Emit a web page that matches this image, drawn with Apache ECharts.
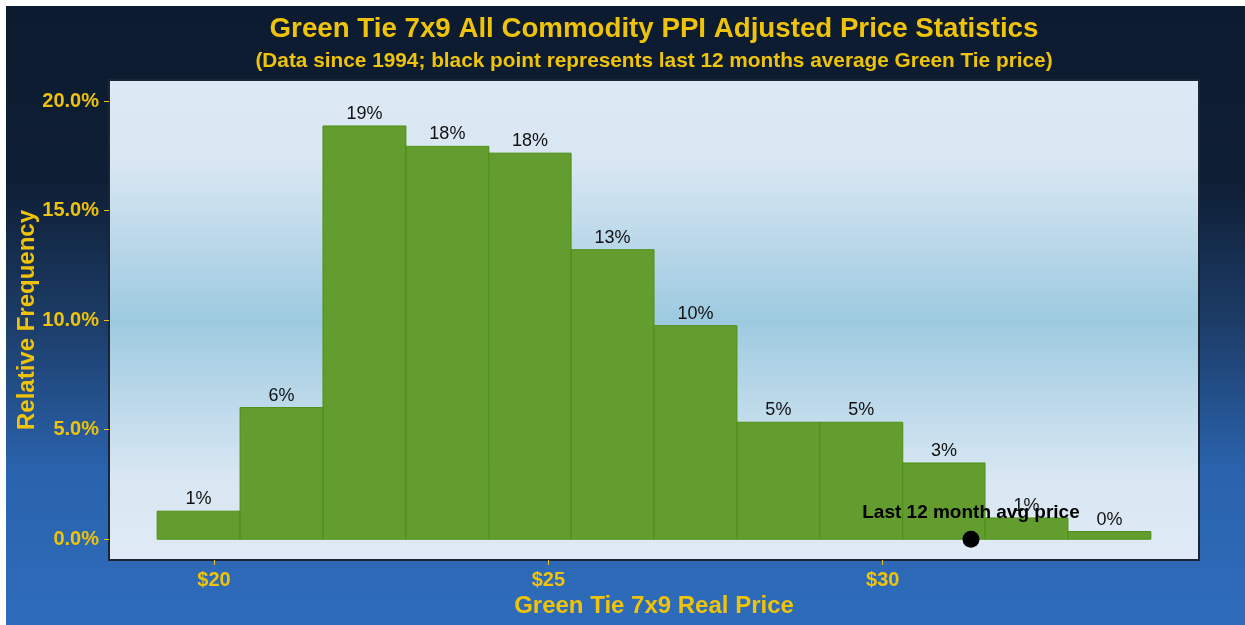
<!DOCTYPE html>
<html>
<head>
<meta charset="utf-8">
<script src="https://cdn.jsdelivr.net/npm/echarts@6/dist/echarts.min.js"></script>
<style>
html, body { margin: 0; padding: 0; background: #ffffff; }
#chart { position: absolute; left: 6px; top: 6px; width: 1239px; height: 619px; }
</style>
</head>
<body>
<div id="chart"></div>
<script>
// ---- data ----
const titleText = 'Green Tie 7x9 All Commodity PPI Adjusted Price Statistics';
const subtitleText = '(Data since 1994; black point represents last 12 months average Green Tie price)';
const xAxisName = 'Green Tie 7x9 Real Price';
const yAxisName = 'Relative Frequency';
const binEdges = [19.15, 20.39, 21.63, 22.87, 24.11, 25.34, 26.58, 27.82, 29.06, 30.30, 31.53, 32.77, 34.01];
const frequencies = [1.28, 6.01, 18.87, 17.94, 17.63, 13.22, 9.75, 5.34, 5.34, 3.48, 0.97, 0.35];
const xTicks = [20, 25, 30];
const yTicks = [0, 5, 10, 15, 20];
const lastAvgPrice = 31.32;
const lastAvgLabel = 'Last 12 month avg price';

const gold = '#efc30a';
const fontFamily = '"Liberation Sans", Arial, sans-serif';

const histData = frequencies.map((v, i) => [binEdges[i], binEdges[i + 1], v]);

const chart = echarts.init(document.getElementById('chart'), null, { renderer: 'canvas' });

const option = {
  animation: false,
  backgroundColor: {
    type: 'linear', x: 0, y: 0, x2: 0, y2: 1,
    colorStops: [
      { offset: 0, color: '#0c1b2f' },
      { offset: 0.28, color: '#0e1e34' },
      { offset: 0.5, color: '#1c3b65' },
      { offset: 0.75, color: '#2a63ad' },
      { offset: 1, color: '#2e6cbb' }
    ]
  },
  textStyle: { fontFamily: fontFamily },
  graphic: [
    { type: 'text', x: 648, y: 23, style: { text: titleText, align: 'center', verticalAlign: 'middle', font: 'bold 27.7px ' + fontFamily, fill: gold } },
    { type: 'text', x: 648, y: 55, style: { text: subtitleText, align: 'center', verticalAlign: 'middle', font: 'bold 20.8px ' + fontFamily, fill: gold } }
  ],
  grid: {
    left: 103, top: 74, width: 1090, height: 480,
    outerBoundsMode: 'none',
    containLabel: false,
    show: true,
    borderColor: '#1b2536', borderWidth: 2,
    backgroundColor: {
      type: 'linear', x: 0, y: 0, x2: 0, y2: 1,
      colorStops: [
        { offset: 0, color: '#dde9f5' },
        { offset: 0.17, color: '#d9e7f3' },
        { offset: 0.5, color: '#9dcae0' },
        { offset: 0.83, color: '#d9e7f3' },
        { offset: 1, color: '#dfeaf6' }
      ]
    }
  },
  xAxis: {
    type: 'value', min: 18.43, max: 34.73,
    name: xAxisName, nameLocation: 'middle', nameGap: 34, nameMoveOverlap: false,
    nameTextStyle: { color: gold, fontWeight: 'bold', fontSize: 24, fontFamily: fontFamily },
    axisLine: { show: false, onZero: false },
    splitLine: { show: false },
    axisTick: { show: true, length: 5, lineStyle: { color: gold }, customValues: xTicks },
    axisLabel: { color: gold, fontWeight: 'bold', fontSize: 20, margin: 10, fontFamily: fontFamily, customValues: xTicks, formatter: v => '$' + v }
  },
  yAxis: {
    type: 'value', min: -0.95, max: 20.97,
    name: yAxisName, nameLocation: 'middle', nameGap: 70, nameRotate: 90, nameMoveOverlap: false,
    nameTextStyle: { color: gold, fontWeight: 'bold', fontSize: 24, fontFamily: fontFamily },
    axisLine: { show: false, onZero: false },
    splitLine: { show: false },
    axisTick: { show: true, length: 5, lineStyle: { color: gold }, customValues: yTicks },
    axisLabel: { color: gold, fontWeight: 'bold', fontSize: 20, margin: 10, fontFamily: fontFamily, customValues: yTicks, formatter: v => v.toFixed(1) + '%' }
  },
  series: [
    {
      type: 'custom',
      data: histData,
      encode: { x: [0, 1], y: 2 },
      renderItem: function (params, api) {
        const tl = api.coord([api.value(0), api.value(2)]);
        const br = api.coord([api.value(1), 0]);
        return {
          type: 'group',
          children: [
            {
              type: 'rect',
              shape: { x: tl[0], y: tl[1], width: br[0] - tl[0], height: br[1] - tl[1] },
              style: { fill: '#639d30', stroke: '#4d8f12', lineWidth: 1 }
            },
            {
              type: 'text',
              style: {
                text: Math.round(api.value(2)) + '%',
                x: (tl[0] + br[0]) / 2, y: tl[1] - 3,
                align: 'center', verticalAlign: 'bottom',
                font: '18px ' + fontFamily, fill: '#111111'
              }
            }
          ]
        };
      },
      z: 2
    },
    {
      type: 'scatter',
      data: [[lastAvgPrice, 0]],
      symbol: 'circle', symbolSize: 17,
      itemStyle: { color: '#000000', opacity: 1 },
      label: {
        show: true, position: 'top', distance: 8,
        formatter: lastAvgLabel,
        color: '#000000', fontWeight: 'bold', fontSize: 19, fontFamily: fontFamily
      },
      z: 5
    }
  ]
};

chart.setOption(option);
</script>
</body>
</html>
